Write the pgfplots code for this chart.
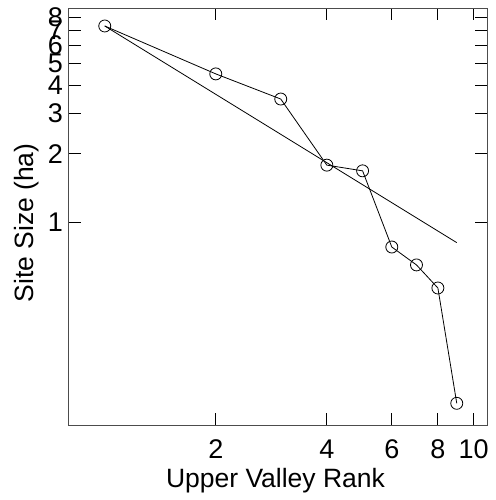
\documentclass[border=0pt]{standalone}
\usepackage{fontspec}
\setmainfont{Liberation Sans}
\usepackage{pgfplots}
\pgfplotsset{compat=1.18}
\begin{document}
\begin{tikzpicture}
\begin{axis}[
  name=main,
  scale only axis,
  width=418bp, height=417bp,
  xmode=log, ymode=log,
  xmin=0.8, xmax=10.87,
  ymin=0.1276, ymax=8.76,
  xtick={2,4,6,8,10}, xticklabels={2,4,6,8,10},
  ytick={1,2,3,4,5,6,7,8}, yticklabels={1,2,3,4,5,6,7,8},
  minor xtick={}, minor ytick={},
  tick align=inside,
  major tick length=12bp,
  axis line style={black!70, line width=1bp},
  tick style={black, line width=0.8bp},
  tick label style={font=\fontsize{27bp}{31bp}\selectfont},
  xticklabel style={anchor=base, yshift=-33bp},
  yticklabel style={anchor=east, inner sep=0pt, xshift=-6bp},
  label style={font=\fontsize{26.5bp}{31bp}\selectfont},
  xlabel={Upper Valley Rank},
  xlabel style={at={(axis description cs:0.494,0)}, anchor=base, yshift=-62bp},
  ylabel={Site Size (ha)},
  ylabel style={at={(axis description cs:-0.0861,0.4844)}, rotate=0, anchor=base},
  clip=false,
]
% rank-size reference line
\addplot[black, line width=0.8bp] coordinates {(1,7.3) (9,0.811)};
% observed site sizes by rank
\addplot[black, line width=0.8bp, mark=o, mark size=6bp, mark options={solid}]
  coordinates {
    (1,7.3) (2,4.49) (3,3.48) (4,1.78) (5,1.68)
    (6,0.776) (7,0.647) (8,0.512) (9,0.159)
  };
\end{axis}
% page margins around the axis
\path (main.south west) ++(-69bp,-75bp) coordinate (pbl);
\path (main.north east) ++(9bp,8bp) coordinate (ptr);
\path (pbl) rectangle (ptr);
\end{tikzpicture}
\end{document}
